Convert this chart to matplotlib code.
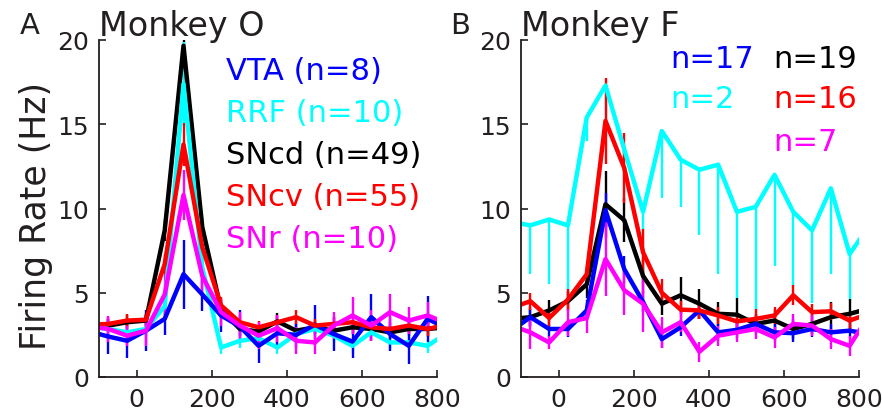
import numpy as np
import matplotlib
matplotlib.use("Agg")
import matplotlib.pyplot as plt

# time bins (ms), bin centres; outer points only feed the clipped edges
t = [-125, -75, -25, 25, 75, 125, 175, 225, 275, 325,
     375, 425, 475, 525, 575, 625, 675, 725, 775, 825]

# Monkey O
vta_o = [2.7, 2.4, 2.15, 2.75, 3.45, 6.1, 4.9, 3.65, 3.0, 1.85,
         2.6, 2.5, 3.1, 2.55, 2.1, 3.55, 2.55, 1.85, 3.45, 2.9]
vta_o_err = [1.0, 1.05, 1.05, 1.2, 0.95, 2.05, 1.0, 0.95, 1.0, 1.0,
             0.8, 0.8, 1.2, 1.0, 1.0, 1.4, 1.0, 1.1, 1.35, 1.0]
rrf_o = [3.0, 2.85, 2.65, 2.85, 4.2, 17.4, 6.5, 1.75, 2.15, 2.3,
         1.75, 2.55, 2.85, 2.45, 1.85, 2.65, 2.05, 2.05, 1.85, 2.6]
rrf_o_err = [0.4, 0.4, 0.4, 0.4, 0.8, 2.5, 1.0, 0.4, 0.4, 0.4,
             0.4, 0.4, 0.4, 0.4, 0.4, 0.4, 0.4, 0.4, 0.4, 0.4]
sncd_o = [3.0, 3.05, 3.25, 3.35, 8.7, 19.66, 8.9, 4.0, 2.85, 2.7,
          3.3, 2.75, 2.95, 2.75, 2.95, 2.85, 2.65, 2.85, 2.85, 2.95]
sncd_o_err = [0.4, 0.4, 0.4, 0.4, 0.6, 0.5, 0.6, 0.4, 0.4, 0.4,
              0.5, 0.4, 0.4, 0.4, 0.4, 0.4, 0.4, 0.4, 0.5, 0.4]
sncv_o = [3.1, 3.15, 3.35, 3.4, 6.7, 13.8, 7.7, 4.25, 3.25, 2.95,
          3.25, 3.55, 3.05, 3.15, 3.25, 2.95, 2.85, 3.05, 2.85, 3.1]
sncv_o_err = [0.4, 0.4, 0.4, 0.4, 0.6, 1.3, 0.7, 0.5, 0.4, 0.4,
              0.4, 0.4, 0.4, 0.4, 0.4, 0.4, 0.4, 0.4, 0.4, 0.4]
snr_o = [3.0, 2.85, 2.45, 2.75, 4.9, 10.8, 6.0, 3.85, 3.05, 2.45,
         2.9, 2.15, 2.05, 3.05, 3.65, 3.05, 3.85, 3.35, 3.65, 3.2]
snr_o_err = [0.7, 0.75, 0.6, 0.9, 1.2, 1.5, 1.2, 0.8, 0.8, 0.8,
             0.8, 0.8, 0.7, 0.8, 1.1, 0.9, 1.1, 0.8, 0.8, 0.8]

# Monkey F
vta_f = [2.75, 3.55, 2.85, 2.85, 3.95, 9.9, 6.4, 4.45, 2.25, 2.95,
         3.95, 2.65, 2.8, 3.15, 2.65, 2.6, 2.85, 2.65, 2.75, 2.55]
vta_f_err = [0.5, 0.5, 0.5, 0.5, 0.6, 1.0, 0.8, 0.6, 0.5, 0.5,
             0.5, 0.5, 0.5, 0.5, 0.5, 0.5, 0.5, 0.5, 0.5, 0.5]
rrf_f = [9.2, 9.0, 9.35, 9.0, 15.4, 17.3, 13.5, 9.8, 14.6, 12.9,
         12.3, 12.6, 9.8, 10.1, 12.0, 9.8, 8.7, 11.2, 7.3, 8.9]
rrf_f_low = [3.0, 2.9, 3.85, 4.4, 1.4, 3.0, 3.0, 2.5, 4.0, 2.8,
             3.9, 6.5, 5.2, 6.1, 5.4, 4.5, 4.3, 5.1, 2.8, 3.0]
sncd_f = [3.45, 3.55, 3.95, 4.5, 5.5, 10.25, 9.3, 6.0, 4.35, 4.85,
          4.35, 3.75, 3.7, 3.15, 3.35, 2.85, 3.15, 3.55, 3.75, 4.05]
sncd_f_err = [0.6, 0.6, 0.6, 0.6, 0.8, 2.0, 1.3, 1.0, 0.7, 1.1,
              0.9, 0.7, 1.0, 0.6, 0.6, 0.6, 0.6, 0.9, 0.9, 0.9]
sncv_f = [4.1, 4.5, 3.5, 4.6, 6.1, 15.2, 12.4, 7.4, 5.0, 4.0,
          3.95, 3.65, 3.3, 3.45, 3.65, 4.85, 3.85, 3.9, 3.35, 3.75]
sncv_f_err = [0.5, 0.5, 0.5, 0.6, 0.5, 2.55, 2.1, 1.4, 0.8, 0.5,
              0.5, 0.5, 0.5, 0.6, 0.5, 0.6, 0.5, 0.5, 0.5, 0.5]
snr_f = [3.05, 2.65, 2.05, 3.25, 3.5, 7.0, 5.15, 4.35, 2.65, 3.25,
         1.5, 2.45, 2.65, 2.85, 2.35, 3.15, 3.05, 2.25, 1.85, 3.6]
snr_f_err = [1.0, 1.0, 0.4, 0.8, 0.9, 2.2, 1.5, 1.7, 0.9, 0.6,
             0.6, 0.6, 0.6, 0.6, 0.6, 0.6, 0.6, 0.6, 0.6, 0.6]

labels_o = ["VTA (n=8)", "RRF (n=10)", "SNcd (n=49)", "SNcv (n=55)", "SNr (n=10)"]
labels_f = ["n=17", "n=2", "n=19", "n=16", "n=7"]

BLUE, CYAN, BLACK, RED, MAG = "#0000ff", "#00ffff", "#000000", "#ff0000", "#ff00ff"
TXT = "#231f20"

fig = plt.figure(figsize=(8.82, 4.14), dpi=100)
axA = fig.add_axes([99 / 882, 36 / 414, 338 / 882, 337 / 414])
axB = fig.add_axes([521 / 882, 36 / 414, 338 / 882, 337 / 414])


def trace(ax, y, err, color):
    ax.errorbar(t, y, yerr=err, color=color, lw=3.2, elinewidth=1.7, capsize=0)


# draw order: black, cyan, blue, red, magenta
trace(axA, sncd_o, sncd_o_err, BLACK)
trace(axA, rrf_o, rrf_o_err, CYAN)
trace(axA, vta_o, vta_o_err, BLUE)
trace(axA, sncv_o, sncv_o_err, RED)
trace(axA, snr_o, snr_o_err, MAG)

trace(axB, rrf_f, [rrf_f_low, [0] * len(t)], CYAN)
trace(axB, sncd_f, sncd_f_err, BLACK)
trace(axB, vta_f, vta_f_err, BLUE)
trace(axB, sncv_f, sncv_f_err, RED)
trace(axB, snr_f, snr_f_err, MAG)

for ax in (axA, axB):
    ax.set_xlim(-100, 800)
    ax.set_ylim(0, 20)
    ax.set_xticks([0, 200, 400, 600, 800])
    ax.set_yticks([0, 5, 10, 15, 20])
    ax.spines["top"].set_visible(False)
    ax.spines["right"].set_visible(False)
    for s in ("left", "bottom"):
        ax.spines[s].set_linewidth(1.3)
        ax.spines[s].set_color(TXT)
    ax.tick_params(direction="in", length=5, width=1.2, colors=TXT,
                   labelsize=18, pad=7)

axA.set_ylabel("Firing Rate (Hz)", fontsize=25, color=TXT)
axA.yaxis.set_label_coords(-0.135, 0.48)

fig.text(30 / 882, 1 - 26 / 414, "A", fontsize=21, color=TXT, ha="center", va="center")
fig.text(460 / 882, 1 - 26 / 414, "B", fontsize=21, color=TXT, ha="center", va="center")
axA.text(0, 20.3, "Monkey O", fontsize=24, color=TXT, ha="left", va="baseline",
         transform=axA.get_yaxis_transform())
axB.text(0, 20.3, "Monkey F", fontsize=24, color=TXT, ha="left", va="baseline",
         transform=axB.get_yaxis_transform())

for lab, c, yy in zip(labels_o, [BLUE, CYAN, BLACK, RED, MAG], [18.2, 15.7, 13.2, 10.7, 8.2]):
    axA.text(238, yy, lab, color=c, fontsize=22, va="center", ha="left")

for lab, c, xx, yy in zip(labels_f, [BLUE, CYAN, BLACK, RED, MAG],
                          [298, 298, 572, 572, 572], [18.9, 16.5, 18.9, 16.5, 14.0]):
    axB.text(xx, yy, lab, color=c, fontsize=22, va="center", ha="left")

fig.savefig("out.png", dpi=100)
